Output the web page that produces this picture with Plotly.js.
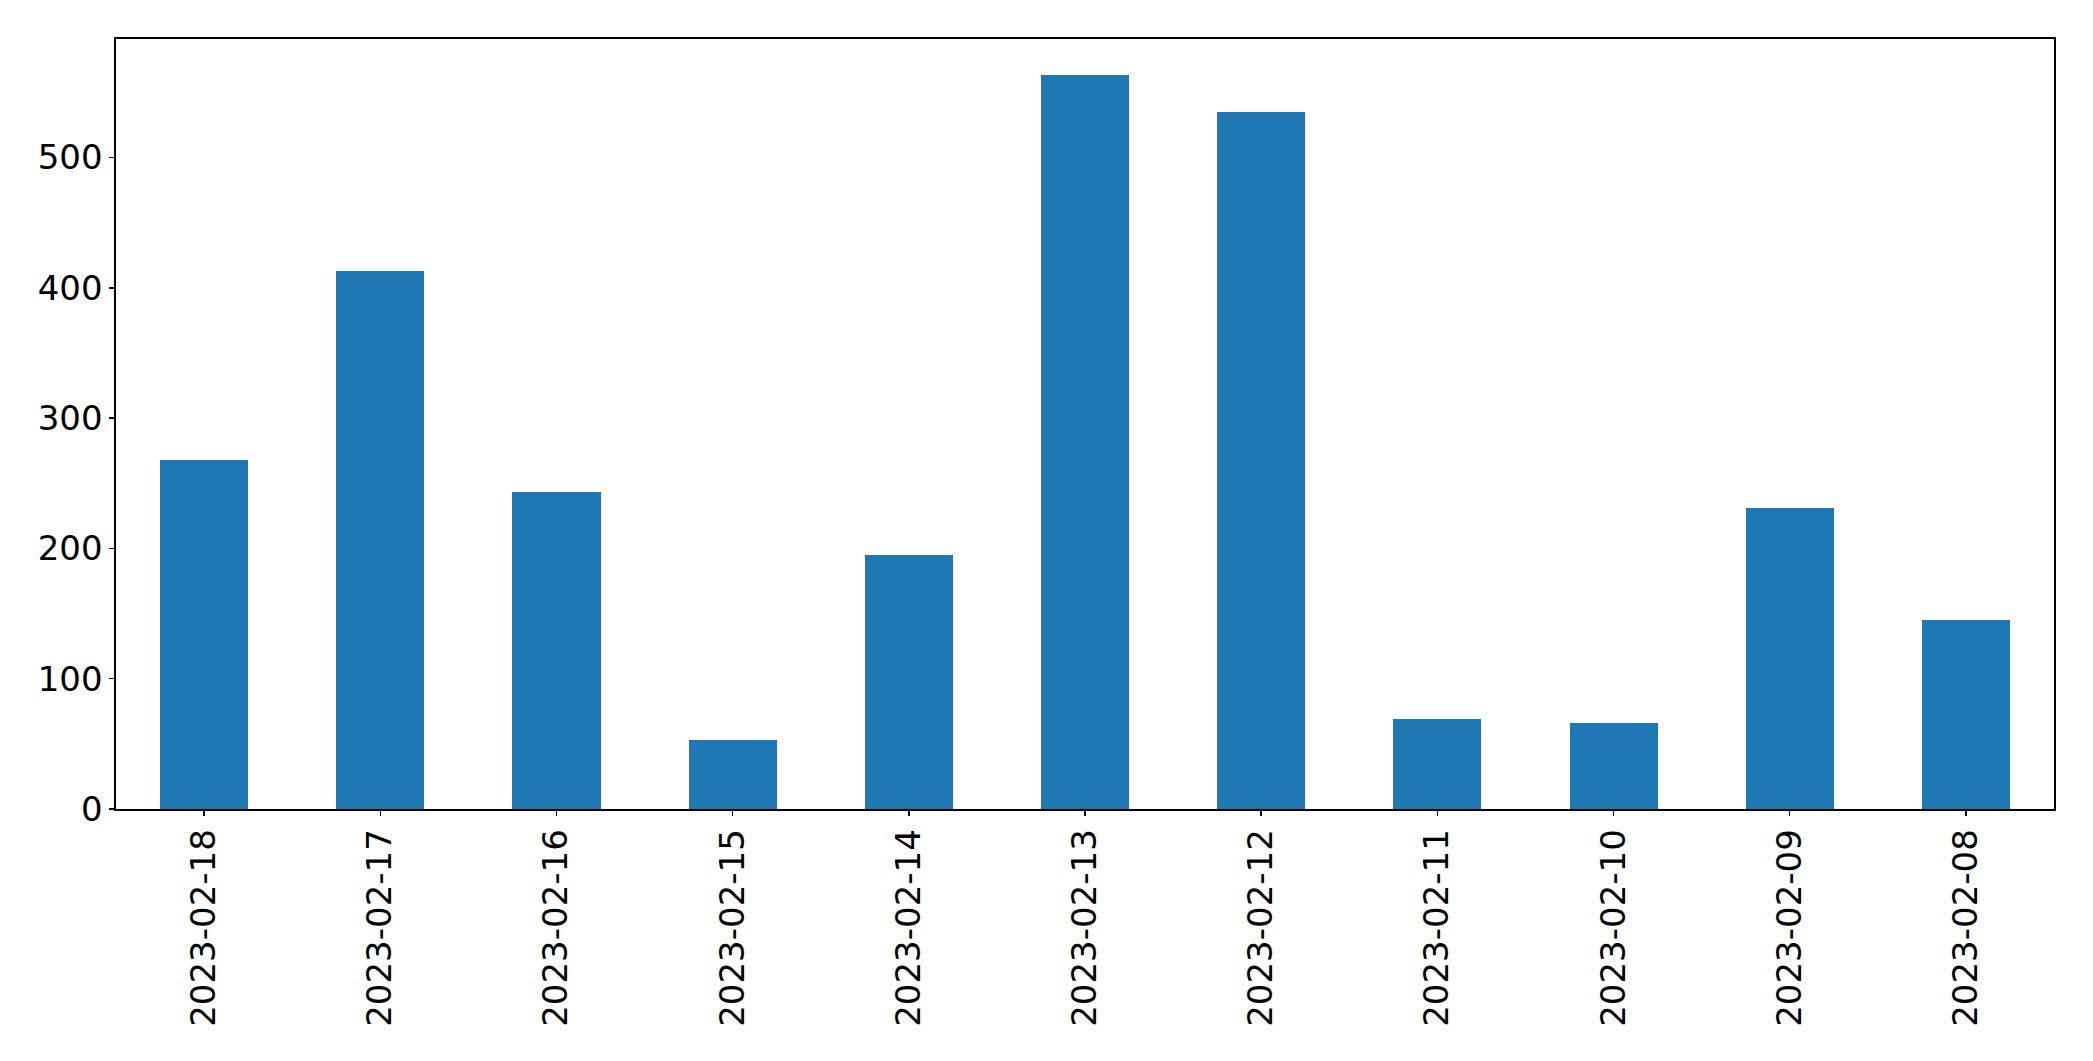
<!DOCTYPE html>
<html>
<head>
<meta charset="utf-8">
<script src="https://cdn.plot.ly/plotly-3.0.1.min.js"></script>
<style>
  body { margin: 0; background: #fff; }
  #bargraph { width: 2093px; height: 1061px; }
</style>
</head>
<body>
<div id="bargraph"></div>
<script>
// dates as they appear on the x axis (newest first)
var dates = ['2023-02-18', '2023-02-17', '2023-02-16', '2023-02-15', '2023-02-14',
  '2023-02-13', '2023-02-12', '2023-02-11', '2023-02-10', '2023-02-09', '2023-02-08'];
// bar heights
var counts = [268, 413, 243, 53, 195, 563, 535, 69, 66, 231, 145];
var yTicks = [0, 100, 200, 300, 400, 500];

var data = [{
  x: dates,
  y: counts,
  type: 'bar',
  width: 0.5,
  marker: { color: '#1f77b4' },
  hoverinfo: 'x+y'
}];

var axisStyle = {
  showline: true,
  mirror: true,
  linecolor: '#000',
  linewidth: 1.6,
  showgrid: false,
  zeroline: false,
  ticks: 'outside',
  ticklen: 5,
  tickwidth: 1.4,
  tickcolor: '#000',
  tickfont: { family: 'DejaVu Sans', size: 34, color: '#000' }
};

var layout = {
  width: 2093,
  height: 1061,
  margin: { l: 116, r: 39, t: 39, b: 252 },
  paper_bgcolor: '#fff',
  plot_bgcolor: '#fff',
  showlegend: false,
  bargap: 0,
  xaxis: Object.assign({}, axisStyle, {
    type: 'category',
    range: [-0.5, 10.5],
    tickangle: -90
  }),
  yaxis: Object.assign({}, axisStyle, {
    range: [0, 591],
    tickvals: yTicks,
    ticktext: yTicks.map(String)
  })
};

Plotly.newPlot('bargraph', data, layout, { displayModeBar: false, staticPlot: true });
</script>
</body>
</html>
